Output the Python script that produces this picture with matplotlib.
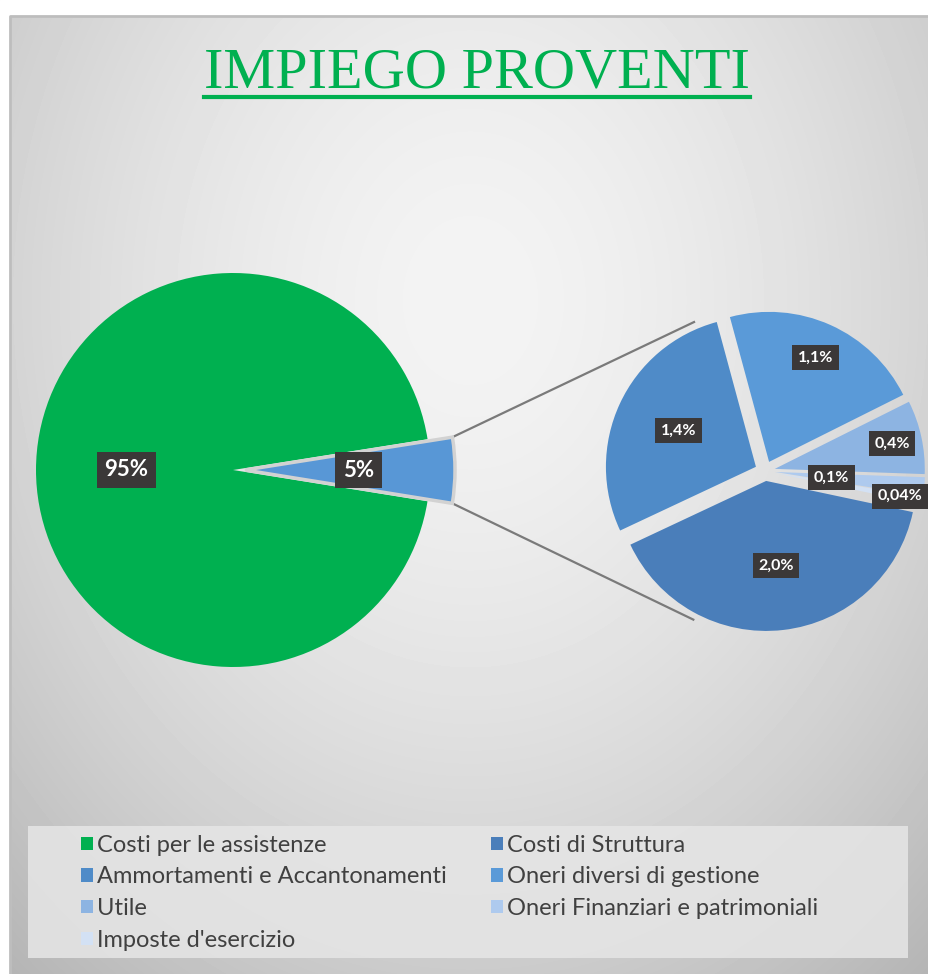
import matplotlib
matplotlib.use('Agg')
import matplotlib.pyplot as plt
from matplotlib.patches import Rectangle
import numpy as np

# Data (percent of total proceeds)
main_labels = ['Costi per le assistenze']
main_values = [95]
detail_labels = ['Costi di Struttura', 'Ammortamenti e Accantonamenti',
                 'Oneri diversi di gestione', 'Utile',
                 'Oneri Finanziari e patrimoniali', "Imposte d'esercizio"]
detail_values = [2.0, 1.4, 1.1, 0.4, 0.1, 0.04]

# Colours
green = '#00B050'
other_blue = '#5897D6'
detail_colors = ['#4A7EBA', '#4F8BC8', '#5A9AD8', '#8DB4E2', '#AECAEE', '#D3E1F4']

W, H = 929, 974
def Y(y):  # image y (top-down) -> data y
    return H - y

fig = plt.figure(figsize=(W / 100, H / 100), dpi=100)
ax = fig.add_axes([0, 0, 1, 1])

# background with soft radial gradient
yy, xx = np.mgrid[0:H, 0:W]
d = np.sqrt(((xx - 470) / 560.0) ** 2 + ((yy - 300) / 700.0) ** 2)
bg = np.clip(0.955 - 0.17 * d ** 1.6, 0, 1)
ax.imshow(bg, cmap='gray', vmin=0, vmax=1, extent=[0, W, 0, H], origin='upper', zorder=0)
ax.add_patch(Rectangle((0, 0), 10, H, color='white', zorder=1))
ax.add_patch(Rectangle((0, Y(16)), W, 16, color='white', zorder=1))
ax.plot([10, 10, W], [0, Y(16), Y(16)], color='#bdbdbd', lw=2, zorder=2)

# main pie
other_total = sum(detail_values)
cx1, cy1, r1 = 233, Y(470), 197
w1, _ = ax.pie(main_values + [other_total], colors=[green, other_blue],
               startangle=9, center=(cx1, cy1), radius=r1,
               explode=[0, 12], frame=True,
               wedgeprops=dict(edgecolor='none'))
for w in w1:
    w.set_zorder(3)
w1[1].set_radius(210)
w1[1].set_edgecolor('#d2d2d2')
w1[1].set_linewidth(2.5)

# second pie (breakdown of the 5%)
cx2, cy2, r2 = 765, Y(471), 150
w2, _ = ax.pie(detail_values, colors=detail_colors, startangle=-12,
               counterclock=False, center=(cx2, cy2), radius=r2,
               explode=[10] * len(detail_values), frame=True,
               wedgeprops=dict(edgecolor='none'))
for w in w2:
    w.set_zorder(3)

# connector lines: from outer corners of the 5% slice, tangent to second pie
bw = w1[1]
bx, by = bw.center
rt = 165
for ang in (bw.theta2, bw.theta1):
    px = bx + bw.r * np.cos(np.radians(ang))
    py = by + bw.r * np.sin(np.radians(ang))
    dx, dy = px - cx2, py - cy2
    dist = np.hypot(dx, dy)
    base = np.degrees(np.arctan2(dy, dx))
    off = np.degrees(np.arccos(rt / dist))
    t = base - off if dy > 0 else base + off
    tx = cx2 + rt * np.cos(np.radians(t))
    ty = cy2 + rt * np.sin(np.radians(t))
    ax.plot([px, tx], [py, ty], color='#7a7a7a', lw=1.6, zorder=2)

# data labels
box = dict(boxstyle='square,pad=0.35', fc='#3b3838', ec='none')

def fmt(v, dec):
    return (f'{v:.{dec}f}%').replace('.', ',')

def put_label(w, dist, txt, size):
    mid = np.radians((w.theta1 + w.theta2) / 2)
    x0, y0 = w.center
    ax.text(x0 + dist * np.cos(mid), y0 + dist * np.sin(mid), txt,
            ha='center', va='center', color='white', fontsize=size,
            fontweight='bold', family='Lato', bbox=box, zorder=5)

put_label(w1[0], 0.54 * r1, fmt(main_values[0], 0), 16)
put_label(w1[1], 0.54 * 210, fmt(other_total, 0), 16)

detail_dist = [0.57, 0.57, 0.76, 0.8, 0.38, 0.85]
for w, v, dd in zip(w2, detail_values, detail_dist):
    put_label(w, dd * r2, fmt(v, 2 if v < 0.1 else 1), 11.5)

# title
title = ax.text(477, Y(73), 'IMPIEGO PROVENTI', ha='center', va='center',
                fontsize=42, color=green, family='Liberation Serif', zorder=5)
fig.canvas.draw()
bb = title.get_window_extent().transformed(ax.transData.inverted())
ax.plot([bb.x0, bb.x1], [Y(97), Y(97)], color=green, lw=3, zorder=5)

# legend
ax.add_patch(Rectangle((28, Y(958)), 880, 132, fc='#e6e6e6', ec='none', alpha=0.85, zorder=3))
handles = [w1[0]] + list(w2)
labels = main_labels + detail_labels
order = [0, 2, 4, 6, 1, 3, 5]
leg = ax.legend([handles[i] for i in order], [labels[i] for i in order],
                ncol=2, loc='upper left', bbox_to_anchor=(69, Y(823)),
                bbox_transform=ax.transData, frameon=False,
                prop=dict(family='Lato', size=17),
                handlelength=0.5, handleheight=0.5, handletextpad=0.2,
                labelspacing=0.45, columnspacing=1.85, borderpad=0)
leg.set_zorder(6)
for t in leg.get_texts():
    t.set_color('#404040')

ax.set_xlim(0, W)
ax.set_ylim(0, H)
ax.set_aspect('equal')
ax.axis('off')
fig.savefig('out.png', dpi=100)
